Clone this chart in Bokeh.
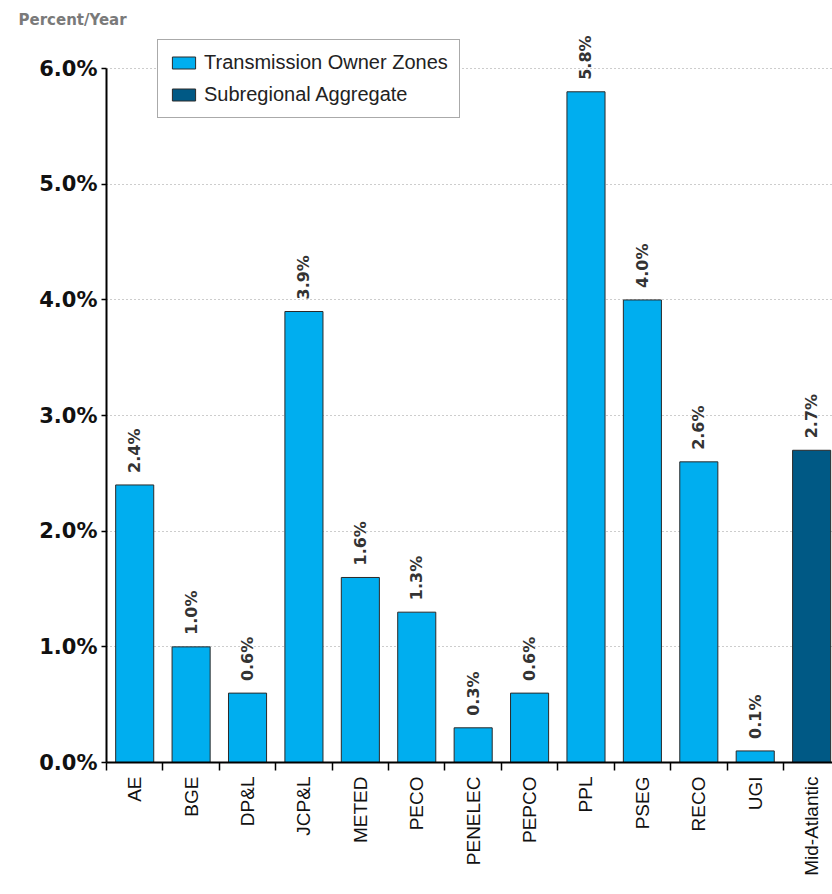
from bokeh.plotting import figure
from bokeh.models import (Range1d, FixedTicker, PrintfTickFormatter,
                          Legend, LegendItem, ColumnDataSource)
from bokeh.core.properties import value
from bokeh.embed import file_html
from bokeh.resources import INLINE
import math

# ---- data ----
categories = ["AE", "BGE", "DP&L", "JCP&L", "METED", "PECO", "PENELEC",
              "PEPCO", "PPL", "PSEG", "RECO", "UGI", "Mid-Atlantic"]
growth = [2.4, 1.0, 0.6, 3.9, 1.6, 1.3, 0.3, 0.6, 5.8, 4.0, 2.6, 0.1, 2.7]
group = ["zone"] * 12 + ["aggregate"]
y_ticks = [0, 1, 2, 3, 4, 5, 6]
series_names = {"zone": "Transmission Owner Zones", "aggregate": "Subregional Aggregate"}
series_colors = {"zone": "#00AEEF", "aggregate": "#005985"}

centers = [i + 0.5 for i in range(len(categories))]
bounds = [float(i) for i in range(len(categories))]

p = figure(width=832, height=894, output_backend="svg", toolbar_location=None,
           x_range=Range1d(0, 12.87), y_range=Range1d(0, 6.33),
           min_border_left=106, min_border_right=0, min_border_top=30,
           min_border_bottom=132)
p.outline_line_color = None
p.background_fill_color = "white"
p.border_fill_color = "white"

# caption as title
p.title.text = "Percent/Year"
p.title.align = "left"
p.title.offset = -88
p.title.text_font = "DejaVu Sans"
p.title.text_font_style = "bold"
p.title.text_font_size = "15px"
p.title.text_color = "#7a7a7a"
p.title.standoff = 4

# grid
p.xgrid.grid_line_color = None
p.ygrid.grid_line_color = "#9a9a9a"
p.ygrid.grid_line_dash = "1 3"
p.ygrid.grid_line_width = 1

# bars
renderers = {}
for g in ["zone", "aggregate"]:
    idx = [i for i, k in enumerate(group) if k == g]
    src = ColumnDataSource(dict(x=[centers[i] for i in idx], top=[growth[i] for i in idx]))
    renderers[g] = p.vbar(x="x", top="top", width=0.675, bottom=0, source=src,
                          fill_color=series_colors[g], line_color="#2a2a2a", line_width=1)

# value labels
lab_src = ColumnDataSource(dict(x=centers, y=growth, t=[f"{v:.1f}%" for v in growth]))
p.text(x="x", y="y", text="t", source=lab_src, angle=math.pi / 2,
       text_align="left", text_baseline="middle", y_offset=-12,
       text_font=value("DejaVu Sans"), text_font_style="bold",
       text_font_size="16px", text_color="#333333")

# y axis
ya = p.yaxis[0]
ya.ticker = FixedTicker(ticks=y_ticks)
ya.bounds = (0, 6)
ya.formatter = PrintfTickFormatter(format="%.1f%%")
ya.major_label_text_font = "DejaVu Sans"
ya.major_label_text_font_style = "bold"
ya.major_label_text_font_size = "21px"
ya.major_label_text_color = "#111111"
ya.axis_line_width = 2
ya.axis_line_color = "black"
ya.major_tick_out = 5
ya.major_tick_in = 0
ya.major_tick_line_width = 1.5
ya.minor_tick_line_color = None
ya.major_label_standoff = 4

# x axis
xa = p.xaxis[0]
xa.ticker = FixedTicker(ticks=centers, minor_ticks=bounds)
xa.major_label_overrides = {c: n for c, n in zip(centers, categories)}
xa.major_label_orientation = math.pi / 2
xa.major_label_text_font = "Liberation Sans"
xa.major_label_text_font_size = "19px"
xa.major_label_text_color = "#111111"
xa.major_tick_line_color = None
xa.major_tick_out = 0
xa.major_tick_in = 0
xa.minor_tick_out = 8
xa.minor_tick_in = 0
xa.minor_tick_line_color = "black"
xa.minor_tick_line_width = 1.5
xa.axis_line_width = 2
xa.axis_line_color = "black"
xa.major_label_standoff = 6

# legend
legend = Legend(items=[LegendItem(label=series_names["zone"], renderers=[renderers["zone"]]),
                       LegendItem(label=series_names["aggregate"], renderers=[renderers["aggregate"]])],
                location=(51, 644), orientation="vertical")
legend.label_text_font = "Liberation Sans"
legend.label_text_font_size = "20px"
legend.label_text_color = "#222222"
legend.glyph_width = 29
legend.glyph_height = 15
legend.label_standoff = 6
legend.padding = 11
legend.spacing = 9
legend.margin = 0
legend.border_line_color = "#555555"
legend.border_line_width = 1
legend.background_fill_alpha = 1
p.add_layout(legend, "center")

open("out.html", "w").write(file_html(p, INLINE))
